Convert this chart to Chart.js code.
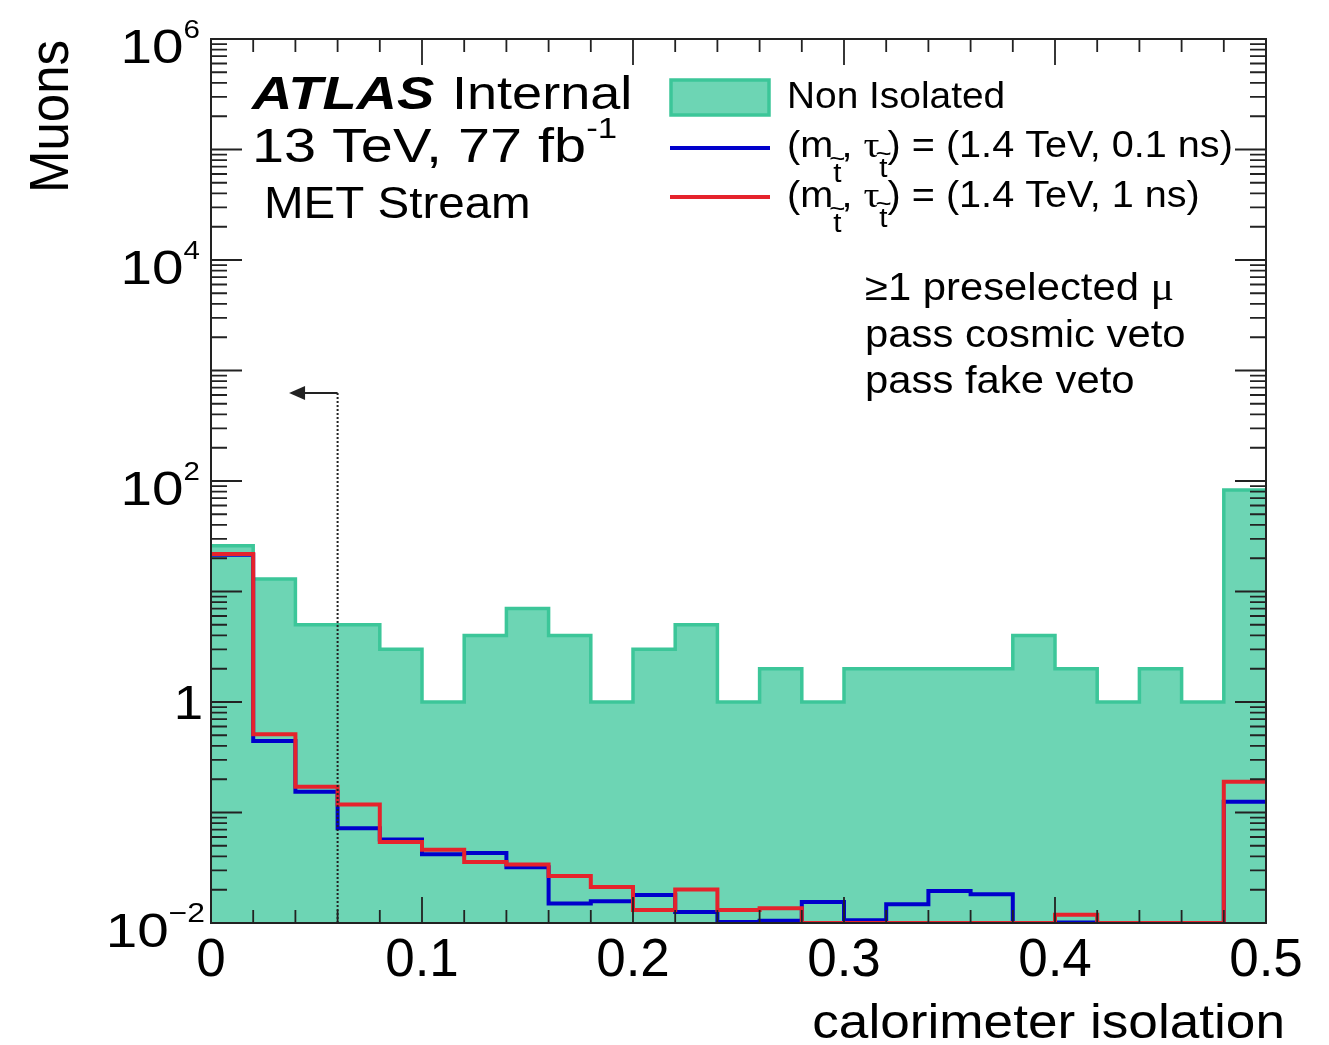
<!DOCTYPE html>
<html>
<head>
<meta charset="utf-8">
<title>calorimeter isolation</title>
<script src="https://cdn.jsdelivr.net/npm/chart.js@4.4.0/dist/chart.umd.min.js"></script>
<style>
  html, body { margin: 0; padding: 0; background: #fff; }
</style>
</head>
<body>
<canvas id="isoChart" width="1329" height="1045"></canvas>
<script>
// histogram bins (calorimeter isolation), 25 bins of 0.02
const binEdges = [0, 0.02, 0.04, 0.06, 0.08, 0.1, 0.12, 0.14, 0.16, 0.18, 0.2, 0.22, 0.24,
  0.26, 0.28, 0.3, 0.32, 0.34, 0.36, 0.38, 0.4, 0.42, 0.44, 0.46, 0.48, 0.5];

const nonIsolated = [26, 13, 5, 5, 3, 1, 4, 7, 4, 1, 3, 5, 1, 2, 1, 2, 2, 2, 2, 4, 2, 1, 2, 1, 83];
const stop01ns = [21.5, 0.444, 0.154, 0.072, 0.057, 0.042, 0.043, 0.032, 0.015, 0.0157, 0.0179, 0.0126,
  0.0102, 0.0105, 0.0155, 0.0106, 0.0148, 0.0195, 0.0182, 0, 0.0101, 0, 0, 0, 0.125];
const stop1ns = [21.8, 0.51, 0.171, 0.118, 0.054, 0.046, 0.0356, 0.0339, 0.0266, 0.0212, 0.0131, 0.0201,
  0.0131, 0.0136, 0, 0, 0, 0, 0, 0, 0.0119, 0, 0, 0, 0.19];

const seriesNames = ['Non Isolated', '(m_t̃, τ_t̃) = (1.4 TeV, 0.1 ns)', '(m_t̃, τ_t̃) = (1.4 TeV, 1 ns)'];
const seriesPoints = ['(1.4 TeV, 0.1 ns)', '(1.4 TeV, 1 ns)'];

const xTickValues = [0, 0.1, 0.2, 0.3, 0.4, 0.5];
const xTickLabels = ['0', '0.1', '0.2', '0.3', '0.4', '0.5'];
const yTickValues = [1e-2, 1, 1e2, 1e4, 1e6];
const yTickBase = ['10', '1', '10', '10', '10'];
const yTickExp = ['\u22122', '', '2', '4', '6'];

const selectionLines = ['\u22651 preselected ', 'pass cosmic veto', 'pass fake veto'];
const cutValue = 0.06;     // dotted cut line
const arrowTip = 0.037;
const arrowLevel = 625;

const yMin = 0.01, yMax = 1e6;

const green = '#6dd5b4', greenLine = '#3cc699', blue = '#0000cc', red = '#e5232c';
const SANS = '"Liberation Sans", Arial, Helvetica, sans-serif';
const SERIF = '"Liberation Serif", "DejaVu Serif", serif';

// histogram -> stepped points (value of bin i starts at its left edge)
function histPoints(vals) {
  const pts = vals.map((v, i) => ({ x: binEdges[i], y: v > 0 ? v : yMin }));
  pts.push({ x: binEdges[binEdges.length - 1], y: pts[pts.length - 1].y });
  return pts;
}

// draw a list of text runs, horizontally stretched a little like the original
function drawRuns(ctx, x, y, runs, sx, align) {
  ctx.save();
  let total = 0;
  runs.forEach(r => { ctx.font = r.f; total += ctx.measureText(r.s).width; });
  ctx.translate(x, y);
  ctx.scale(sx, 1);
  let cx = align === 'right' ? -total : 0;
  ctx.fillStyle = '#000';
  ctx.textBaseline = 'alphabetic';
  ctx.textAlign = 'left';
  runs.forEach(r => {
    ctx.font = r.f;
    const w = ctx.measureText(r.s).width;
    ctx.fillText(r.s, cx, r.dy || 0);
    if (r.tilde) {
      ctx.font = r.tf;
      const tw = ctx.measureText('~').width;
      ctx.fillText('~', cx + w / 2 - tw / 2, (r.dy || 0) - r.tildeUp);
    }
    cx += w;
  });
  ctx.restore();
}

function stopRuns(point, size) {
  const f = size + 'px ' + SANS;
  const sub = (dy) => ({ s: 't', f: '27px ' + SANS, dy: dy, tilde: true, tf: '25px ' + SANS, tildeUp: 15 });
  return [
    { s: '(m', f: f }, sub(25), { s: ', ', f: f },
    { s: '\u03c4', f: size + 'px ' + SERIF }, sub(20),
    { s: ') = ' + point, f: f }
  ];
}

const decor = {
  id: 'decor',
  afterDatasetsDraw(chart) {
    const ctx = chart.ctx;
    const xs = chart.scales.x, ys = chart.scales.y;
    const a = chart.chartArea;

    // cut line with arrow
    const cx = xs.getPixelForValue(cutValue);
    const ay = ys.getPixelForValue(arrowLevel);
    const tip = xs.getPixelForValue(arrowTip);
    ctx.save();
    ctx.strokeStyle = '#222';
    ctx.lineWidth = 2;
    ctx.setLineDash([2, 2]);
    ctx.beginPath();
    ctx.moveTo(cx, a.bottom);
    ctx.lineTo(cx, ay);
    ctx.stroke();
    ctx.setLineDash([]);
    ctx.beginPath();
    ctx.moveTo(cx, ay);
    ctx.lineTo(tip + 14, ay);
    ctx.stroke();
    ctx.fillStyle = '#222';
    ctx.beginPath();
    ctx.moveTo(tip, ay);
    ctx.lineTo(tip + 16, ay - 7);
    ctx.lineTo(tip + 16, ay + 7);
    ctx.closePath();
    ctx.fill();
    ctx.restore();

    // frame and ticks
    ctx.save();
    ctx.strokeStyle = '#222';
    ctx.lineWidth = 1.8;
    ctx.beginPath();
    for (let i = 0; i <= 25; i++) {
      const px = xs.getPixelForValue(i * 0.02);
      const len = i % 5 === 0 ? 26 : 13;
      ctx.moveTo(px, a.bottom); ctx.lineTo(px, a.bottom - len);
      ctx.moveTo(px, a.top); ctx.lineTo(px, a.top + len);
    }
    for (let d = -2; d <= 6; d++) {
      for (let m = 1; m <= 9; m++) {
        const v = m * Math.pow(10, d);
        if (v > yMax * 1.0001) continue;
        const py = ys.getPixelForValue(v);
        const len = m === 1 ? 31 : 16;
        ctx.moveTo(a.left, py); ctx.lineTo(a.left + len, py);
        ctx.moveTo(a.right, py); ctx.lineTo(a.right - len, py);
      }
    }
    ctx.stroke();
    ctx.lineWidth = 2;
    ctx.strokeRect(a.left, a.top, a.right - a.left, a.bottom - a.top);
    ctx.restore();

    // x tick labels
    ctx.save();
    ctx.fillStyle = '#000';
    ctx.font = '53px ' + SANS;
    ctx.textAlign = 'center';
    ctx.textBaseline = 'alphabetic';
    xTickValues.forEach((v, i) => ctx.fillText(xTickLabels[i], xs.getPixelForValue(v), 976));
    ctx.restore();

    // y tick labels
    yTickValues.forEach((v, i) => {
      const py = ys.getPixelForValue(v);
      if (yTickExp[i]) {
        const neg = yTickExp[i].length > 1;
        drawRuns(ctx, neg ? 205 : 200, py + 24, [
          { s: yTickBase[i], f: '48px ' + SANS },
          { s: yTickExp[i], f: (neg ? '27px ' : '25px ') + SANS, dy: -25 }
        ], 1.18, 'right');
      } else {
        drawRuns(ctx, 203, py + 17, [{ s: yTickBase[i], f: '48px ' + SANS }], 1.1, 'right');
      }
    });

    // axis titles
    drawRuns(ctx, 1285, 1038, [{ s: 'calorimeter isolation', f: '49px ' + SANS }], 1.085, 'right');
    ctx.save();
    ctx.translate(68, 40);
    ctx.rotate(-Math.PI / 2);
    ctx.scale(1, 1.1);
    ctx.font = '51px ' + SANS;
    ctx.textAlign = 'right';
    ctx.fillStyle = '#000';
    ctx.fillText('Muons', 0, 0);
    ctx.restore();

    // ATLAS label
    drawRuns(ctx, 252, 109, [{ s: 'ATLAS', f: 'italic bold 47px ' + SANS }], 1.19);
    drawRuns(ctx, 452, 109, [{ s: 'Internal', f: '47px ' + SANS }], 1.15);
    drawRuns(ctx, 252, 162, [
      { s: '13 TeV, 77 fb', f: '48px ' + SANS },
      { s: '-1', f: '29px ' + SANS, dy: -24 }
    ], 1.2);
    drawRuns(ctx, 264, 218, [{ s: 'MET Stream', f: '44px ' + SANS }], 1.08);

    // legend
    const ds = chart.data.datasets;
    ctx.save();
    ctx.fillStyle = green;
    ctx.strokeStyle = greenLine;
    ctx.lineWidth = 3.5;
    ctx.fillRect(671, 80, 98, 35);
    ctx.strokeRect(671, 80, 98, 35);
    ctx.lineWidth = 4;
    ctx.strokeStyle = ds[1].borderColor;
    ctx.beginPath(); ctx.moveTo(670, 148); ctx.lineTo(770, 148); ctx.stroke();
    ctx.strokeStyle = ds[2].borderColor;
    ctx.beginPath(); ctx.moveTo(670, 197); ctx.lineTo(770, 197); ctx.stroke();
    ctx.restore();
    drawRuns(ctx, 787, 108, [{ s: seriesNames[0], f: '37px ' + SANS }], 1.05);
    drawRuns(ctx, 787, 157, stopRuns(seriesPoints[0], 36), 1.1);
    drawRuns(ctx, 787, 207, stopRuns(seriesPoints[1], 36), 1.1);

    // selection text
    drawRuns(ctx, 865, 300, [
      { s: selectionLines[0], f: '38px ' + SANS },
      { s: '\u03bc', f: '40px ' + SERIF }
    ], 1.1);
    drawRuns(ctx, 865, 347, [{ s: selectionLines[1], f: '38px ' + SANS }], 1.1);
    drawRuns(ctx, 865, 393, [{ s: selectionLines[2], f: '38px ' + SANS }], 1.1);
  }
};

new Chart(document.getElementById('isoChart').getContext('2d'), {
  type: 'line',
  data: {
    datasets: [
      {
        label: seriesNames[0],
        data: histPoints(nonIsolated),
        stepped: true,
        fill: 'start',
        backgroundColor: green,
        borderColor: greenLine,
        borderWidth: 3.5,
        pointRadius: 0,
        order: 3
      },
      {
        label: seriesNames[1],
        data: histPoints(stop01ns),
        stepped: true,
        fill: false,
        borderColor: blue,
        borderWidth: 4,
        pointRadius: 0,
        order: 2
      },
      {
        label: seriesNames[2],
        data: histPoints(stop1ns),
        stepped: true,
        fill: false,
        borderColor: red,
        borderWidth: 4,
        pointRadius: 0,
        order: 1
      }
    ]
  },
  options: {
    responsive: false,
    animation: false,
    layout: { padding: { left: 211, right: 63, top: 39, bottom: 122 } },
    scales: {
      x: { type: 'linear', min: 0, max: 0.5, display: false },
      y: { type: 'logarithmic', min: yMin, max: yMax, display: false }
    },
    plugins: { legend: { display: false }, tooltip: { enabled: false } }
  },
  plugins: [decor]
});
</script>
</body>
</html>
